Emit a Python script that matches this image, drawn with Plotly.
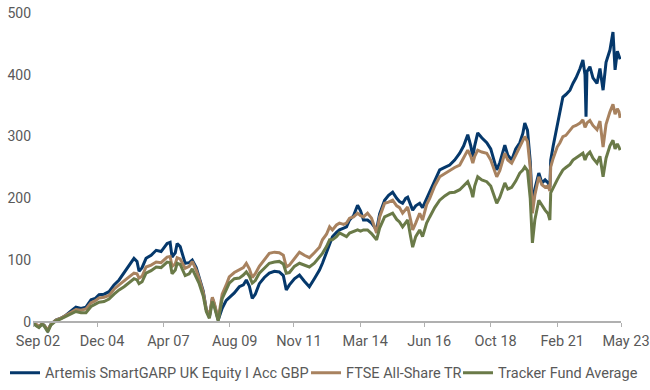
import plotly.graph_objects as go

dates = [
    "2002-09-01", "2002-10-08", "2002-11-16", "2002-12-24", "2003-01-20", "2003-03-10", "2003-04-18",
    "2003-06-22", "2003-08-25", "2003-10-29", "2004-01-15", "2004-03-05", "2004-05-09", "2004-07-12",
    "2004-09-15", "2004-11-06", "2004-12-27", "2005-03-01", "2005-05-04", "2005-07-07", "2005-09-10",
    "2005-11-13", "2006-01-17", "2006-03-20", "2006-04-28", "2006-05-24", "2006-07-02", "2006-08-22",
    "2006-10-26", "2006-12-30", "2007-03-03", "2007-05-19", "2007-06-27", "2007-07-22", "2007-09-01",
    "2007-09-25", "2007-11-03", "2008-01-06", "2008-02-27", "2008-04-06", "2008-05-27", "2008-07-04",
    "2008-08-25", "2008-10-03", "2008-11-12", "2008-12-20", "2009-01-15", "2009-03-05", "2009-04-01",
    "2009-04-25", "2009-06-16", "2009-07-25", "2009-09-28", "2009-12-01", "2010-01-22", "2010-03-01",
    "2010-04-09", "2010-05-16", "2010-06-24", "2010-08-15", "2010-10-18", "2010-12-21", "2011-02-25",
    "2011-04-28", "2011-06-19", "2011-07-27", "2011-09-05", "2011-11-08", "2012-01-12", "2012-03-15",
    "2012-05-18", "2012-07-21", "2012-09-25", "2012-11-02", "2012-12-24", "2013-02-02", "2013-03-10",
    "2013-05-01", "2013-06-09", "2013-08-01", "2013-09-07", "2013-10-16", "2013-12-06", "2014-01-27",
    "2014-03-06", "2014-04-13", "2014-06-04", "2014-07-25", "2014-09-28", "2014-11-06", "2015-01-09",
    "2015-03-01", "2015-04-22", "2015-06-13", "2015-07-19", "2015-08-28", "2015-10-06", "2015-11-01",
    "2015-12-09", "2016-01-04", "2016-02-12", "2016-04-03", "2016-05-10", "2016-07-01", "2016-08-10",
    "2016-10-13", "2016-12-16", "2017-02-19", "2017-04-23", "2017-06-26", "2017-08-30", "2017-10-20",
    "2017-12-11", "2018-01-19", "2018-02-14", "2018-03-10", "2018-04-18", "2018-06-09", "2018-08-12",
    "2018-10-02", "2018-11-10", "2018-12-18", "2019-01-27", "2019-04-01", "2019-05-09", "2019-06-28",
    "2019-08-19", "2019-10-10", "2019-11-18", "2019-12-13", "2020-01-17", "2020-02-21", "2020-03-20",
    "2020-04-20", "2020-06-10", "2020-07-20", "2020-08-30", "2020-10-08", "2020-10-30", "2020-11-10",
    "2020-12-12", "2021-02-01", "2021-03-08", "2021-04-15", "2021-05-24", "2021-07-15", "2021-08-22",
    "2021-10-01", "2021-11-21", "2021-12-28", "2022-01-24", "2022-02-06", "2022-02-18", "2022-03-28",
    "2022-05-06", "2022-06-27", "2022-08-04", "2022-09-13", "2022-10-21", "2022-12-10", "2023-01-18",
    "2023-02-14", "2023-03-15", "2023-04-05", "2023-04-20", "2023-05-10",
]

artemis = [
    0, -5, -8, -3, -5, -14, -4, 3, 6, 11, 19, 24, 22, 24,
    36, 38, 44, 45, 49, 60, 68, 80, 92, 103, 98, 82, 88, 103,
    108, 116, 114, 127, 129, 105, 112, 127, 122, 95, 96, 100, 88, 73,
    50, 20, 8, 38, 28, 3, 15, 22, 35, 40, 47, 57, 60, 68,
    58, 38, 45, 62, 72, 79, 82, 81, 75, 52, 60, 70, 76, 66,
    57, 70, 84, 95, 112, 125, 138, 145, 149, 152, 154, 165, 172, 189,
    180, 165, 165, 160, 149, 175, 197, 205, 210, 200, 195, 192, 200, 202,
    188, 181, 188, 192, 185, 200, 209, 230, 246, 250, 254, 262, 273, 285,
    303, 285, 267, 285, 306, 298, 290, 280, 262, 246, 258, 286, 270, 262,
    280, 290, 305, 322, 310, 260, 186, 215, 241, 225, 230, 225, 218, 262,
    285, 316, 335, 364, 368, 375, 386, 395, 410, 424, 400, 332, 405, 413,
    395, 386, 410, 375, 420, 440, 469, 408, 438, 430, 425,
]

ftse = [
    0, -4, -7, -3, -5, -13, -4, 3, 6, 11, 17, 20, 19, 21,
    31, 34, 39, 40, 43, 53, 60, 67, 73, 79, 78, 71, 74, 89,
    92, 97, 96, 105, 106, 90, 94, 104, 102, 87, 90, 98, 84, 70,
    48, 20, 10, 40, 30, 5, 25, 45, 60, 73, 80, 84, 88, 95,
    86, 72, 78, 90, 100, 111, 113, 112, 108, 89, 92, 103, 113, 108,
    104, 112, 121, 133, 142, 154, 149, 157, 160, 158, 160, 168, 170, 176,
    172, 170, 176, 168, 144, 170, 192, 194, 197, 188, 185, 176, 182, 186,
    165, 149, 160, 176, 165, 190, 200, 220, 235, 240, 246, 250, 254, 265,
    278, 268, 257, 268, 278, 275, 273, 262, 248, 235, 245, 273, 262, 257,
    270, 283, 292, 300, 292, 250, 176, 205, 235, 222, 218, 220, 212, 251,
    265, 283, 290, 300, 302, 310, 316, 318, 322, 327, 315, 318, 322, 326,
    318, 311, 325, 283, 320, 340, 352, 336, 345, 340, 330,
]

tracker = [
    0, -6, -9, -4, -6, -16, -5, 2, 5, 9, 14, 17, 15, 15,
    25, 28, 32, 33, 37, 45, 52, 57, 63, 70, 68, 62, 65, 79,
    83, 89, 88, 97, 96, 78, 84, 95, 93, 75, 78, 86, 72, 62,
    42, 17, 6, 33, 24, 2, 20, 38, 52, 63, 70, 71, 76, 81,
    74, 63, 67, 79, 87, 95, 97, 98, 94, 79, 80, 90, 95, 92,
    89, 95, 105, 111, 122, 133, 133, 138, 144, 140, 138, 144, 146, 149,
    147, 149, 149, 143, 133, 152, 170, 173, 176, 166, 162, 154, 160, 165,
    138, 121, 138, 149, 138, 160, 170, 185, 197, 204, 209, 210, 214, 220,
    227, 215, 202, 220, 235, 230, 227, 220, 205, 192, 202, 225, 215, 218,
    228, 241, 246, 251, 245, 200, 128, 165, 197, 188, 181, 175, 165, 209,
    218, 230, 238, 246, 250, 255, 262, 265, 270, 273, 262, 266, 270, 275,
    265, 257, 268, 235, 265, 285, 294, 280, 288, 283, 278,
]

series_names = ["Artemis SmartGARP UK Equity I Acc GBP", "FTSE All-Share TR", "Tracker Fund Average"]
series_colors = ["#05386b", "#a8825f", "#6a7a48"]

tick_dates = ["2002-09-01", "2004-12-01", "2007-04-01", "2009-08-01", "2011-11-01",
              "2014-03-01", "2016-06-01", "2018-10-01", "2021-02-01", "2023-05-01"]
tick_labels = ["Sep 02", "Dec 04", "Apr 07", "Aug 09", "Nov 11",
               "Mar 14", "Jun 16", "Oct 18", "Feb 21", "May 23"]
y_ticks = [0, 100, 200, 300, 400, 500]

legend_ids = ["legend", "legend2", "legend3"]
legend_x = [0.0077, 0.4708, 0.7046]

fig = go.Figure()
for name, vals, col, lg in zip(series_names, [artemis, ftse, tracker], series_colors, legend_ids):
    fig.add_trace(go.Scatter(x=dates, y=vals, mode="lines", name=name, legend=lg,
                             line=dict(color=col, width=3)))

y_min, y_max = -25.9, 508
zero_pos = (0 - y_min) / (y_max - y_min)

legend_common = dict(orientation="h", xref="container", yref="container",
                     xanchor="left", y=0.044, yanchor="middle",
                     font=dict(size=14.5, color="#595959"), itemwidth=30,
                     bgcolor="rgba(0,0,0,0)", borderwidth=0)

fig.update_layout(
    width=650, height=390,
    margin=dict(l=33, r=29, t=8, b=52, autoexpand=False),
    plot_bgcolor="rgba(0,0,0,0)", paper_bgcolor="white",
    font=dict(family="Roboto", size=14, color="#595959"),
    showlegend=True,
    legend=dict(x=legend_x[0], **legend_common),
    legend2=dict(x=legend_x[1], **legend_common),
    legend3=dict(x=legend_x[2], **legend_common),
    xaxis=dict(type="date", range=["2002-09-01", "2023-05-01"],
               tickvals=tick_dates, ticktext=tick_labels,
               anchor="free", position=zero_pos,
               showline=True, linecolor="#b0b0b0", linewidth=2,
               ticks="outside", ticklen=4, tickcolor="#b0b0b0", tickwidth=1,
               showgrid=False, zeroline=False, ticklabelstandoff=2,
               ticklabelshift=5, tickfont=dict(size=14.5)),
    yaxis=dict(range=[y_min, y_max], tickvals=y_ticks,
               showgrid=False, zeroline=False, showline=False,
               ticks="", tickfont=dict(size=14), ticklabelstandoff=1),
)

fig.write_html("out.html", config={"displayModeBar": False},
               post_script="document.body.style.margin='0';")
